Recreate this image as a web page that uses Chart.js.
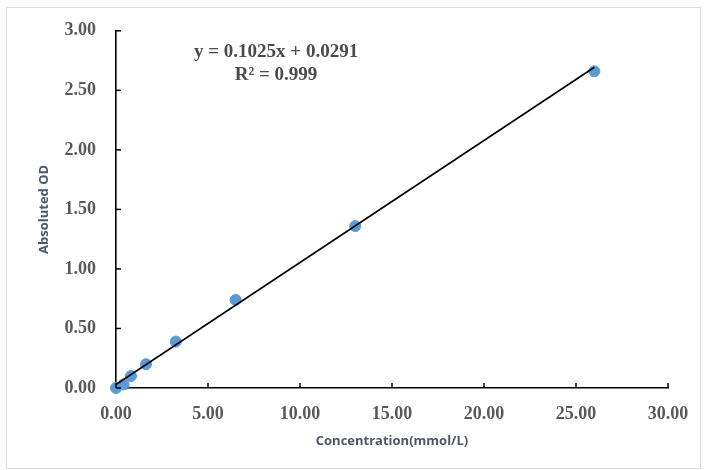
<!DOCTYPE html>
<html>
<head>
<meta charset="utf-8">
<script src="https://cdn.jsdelivr.net/npm/chart.js@4/dist/chart.umd.min.js"></script>
<style>
  body { margin: 0; background: #fff; }
  #wrap { position: relative; width: 706px; height: 470px; }
  #frame { position: absolute; left: 6px; top: 7px; width: 693px; height: 460px; border: 1px solid #dcdcdc; pointer-events: none; }
</style>
</head>
<body>
<div id="wrap">
  <canvas id="stdChart" width="706" height="470"></canvas>
  <div id="frame"></div>
</div>
<script>
// standard curve points
var concentration = [0, 0.41, 0.81, 1.63, 3.25, 6.5, 13.0, 26.0];
var absOD = [0, 0.03, 0.10, 0.20, 0.39, 0.74, 1.36, 2.66];

// linear trendline ends
var trendX = [0, 26.0];
var trendY = [0.0291, 2.694];

var eqLines = ["y = 0.1025x + 0.0291", "R\u00B2 = 0.999"];

var tickFont = { family: "'Liberation Serif', 'Times New Roman', serif", size: 18, weight: 'bold' };
var titleFont = { family: "'Open Sans', sans-serif", size: 13, weight: 'bold' };

// inward tick marks + equation text
var innerTicks = {
  id: 'innerTicks',
  afterDraw: function(chart) {
    var ctx = chart.ctx;
    var xs = chart.scales.x, ys = chart.scales.y;
    var area = chart.chartArea;
    ctx.save();
    ctx.strokeStyle = '#000';
    ctx.lineWidth = 1.5;
    xs.ticks.forEach(function(t) {
      var px = xs.getPixelForValue(t.value);
      ctx.beginPath();
      ctx.moveTo(px, area.bottom);
      ctx.lineTo(px, area.bottom - 5);
      ctx.stroke();
    });
    ys.ticks.forEach(function(t) {
      var py = ys.getPixelForValue(t.value);
      ctx.beginPath();
      ctx.moveTo(area.left, py);
      ctx.lineTo(area.left + 5, py);
      ctx.stroke();
    });
    ctx.fillStyle = '#4a4a4a';
    ctx.font = "bold 19px 'Liberation Serif', 'Times New Roman', serif";
    ctx.textAlign = 'center';
    ctx.textBaseline = 'middle';
    var cx = xs.getPixelForValue(8.7);
    ctx.fillText(eqLines[0], cx, ys.getPixelForValue(2.82));
    ctx.fillText(eqLines[1], cx, ys.getPixelForValue(2.63));
    ctx.restore();
  }
};

var chrt = document.getElementById("stdChart").getContext('2d');
var myChart = new Chart(chrt, {
  type: 'scatter',
  data: {
    datasets: [{
      label: 'Absoluted OD',
      data: concentration.map(function(c, i) { return { x: c, y: absOD[i] }; }),
      backgroundColor: '#5b9bd5',
      borderColor: '#5b9bd5',
      pointRadius: 5.5,
      clip: false,
      order: 2
    }, {
      label: 'Linear',
      type: 'line',
      data: trendX.map(function(c, i) { return { x: c, y: trendY[i] }; }),
      borderColor: '#000',
      borderWidth: 1.6,
      pointRadius: 0,
      fill: false,
      order: 1
    }]
  },
  options: {
    responsive: false,
    animation: false,
    layout: { padding: { left: 30, right: 38, top: 28, bottom: 10 } },
    plugins: {
      legend: { display: false },
      tooltip: { enabled: false }
    },
    scales: {
      x: {
        type: 'linear',
        min: 0,
        max: 30,
        grid: { display: false, drawTicks: false },
        border: { display: true, color: '#000', width: 1.6 },
        ticks: {
          stepSize: 5,
          padding: 16,
          color: '#595959',
          font: tickFont,
          callback: function(v) { return v.toFixed(2); }
        },
        title: {
          display: true,
          text: 'Concentration(mmol/L)',
          color: '#4d5766',
          font: titleFont,
          padding: { top: 4, bottom: 11 }
        },
        afterFit: function(scale) { scale.height = 72; }
      },
      y: {
        min: 0,
        max: 3,
        grid: { display: false, drawTicks: false },
        border: { display: true, color: '#000', width: 1.6 },
        ticks: {
          stepSize: 0.5,
          padding: 20,
          color: '#595959',
          font: tickFont,
          callback: function(v) { return v.toFixed(2); }
        },
        title: {
          display: true,
          text: 'Absoluted OD',
          color: '#4d5766',
          font: titleFont,
          padding: { top: 6, bottom: 0 }
        },
        afterFit: function(scale) { scale.width = 86; }
      }
    }
  },
  plugins: [innerTicks]
});
</script>
</body>
</html>
